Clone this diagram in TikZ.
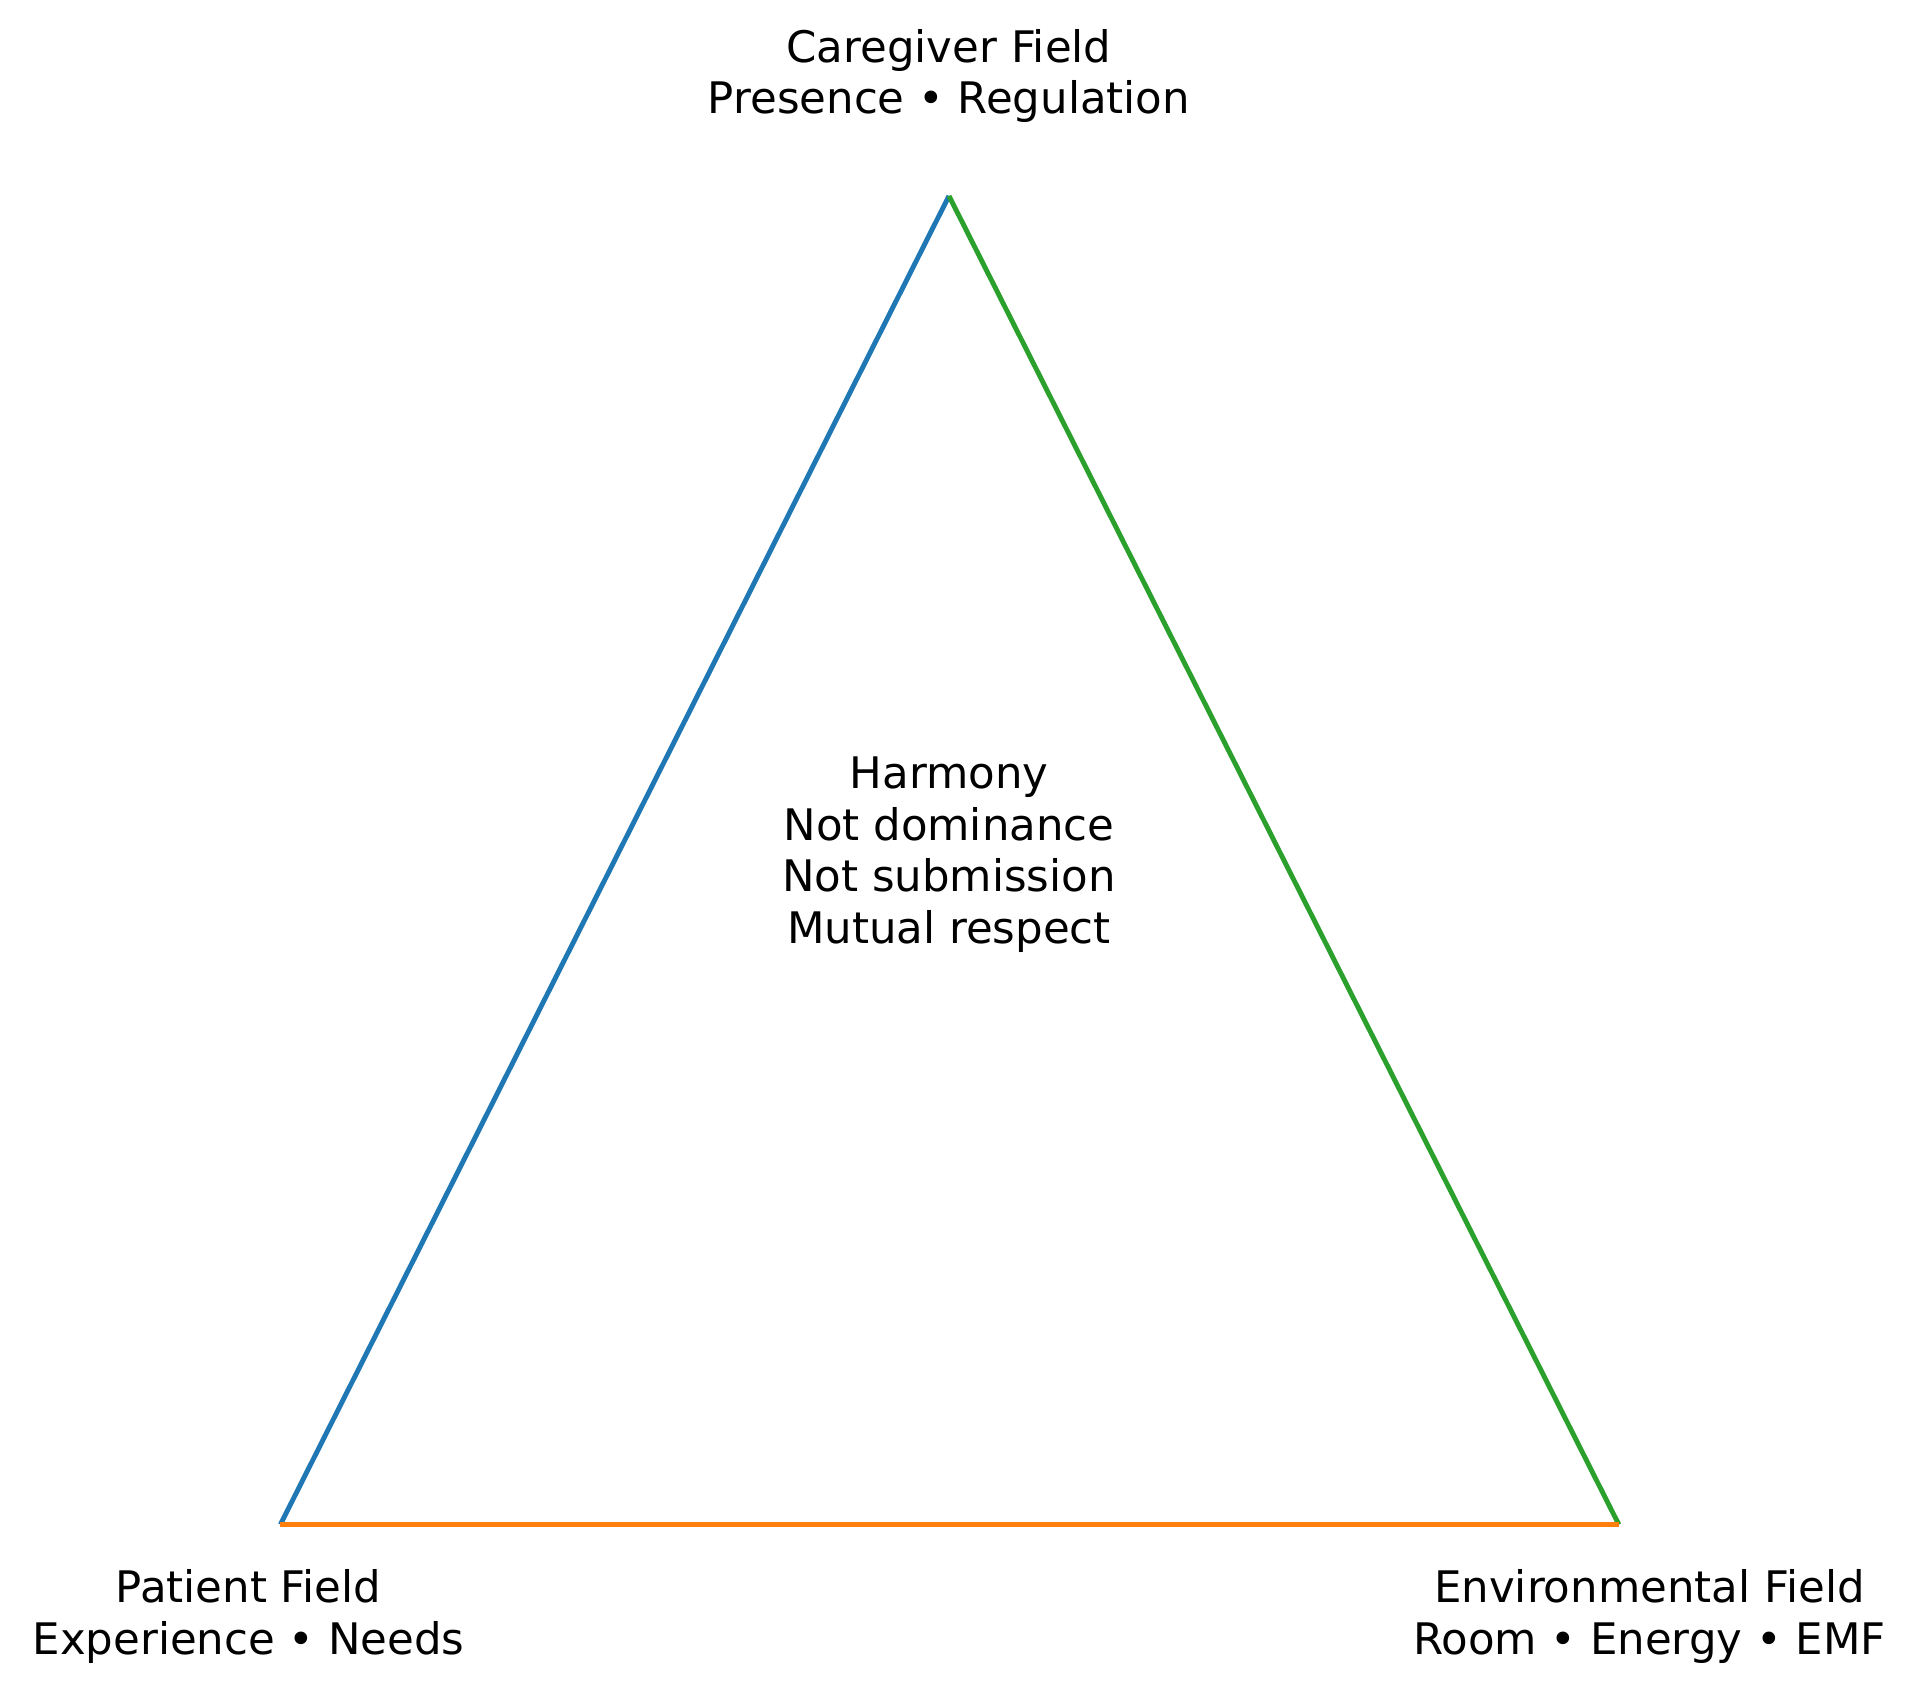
\documentclass[tikz,border=0pt]{standalone}
\usepackage{fontspec}
\setmainfont{DejaVu Sans}
\definecolor{tblue}{HTML}{1F77B4}
\definecolor{torange}{HTML}{FF7F0E}
\definecolor{tgreen}{HTML}{2CA02C}
\begin{document}
\begin{tikzpicture}[x=1pt,y=-1pt,
  lbl/.style={align=center,font=\fontsize{35.5}{42}\selectfont,inner sep=0pt},
  edge/.style={line width=4pt}]
\useasboundingbox (0,0) rectangle (1568,1386);
\coordinate (C) at (775,160);
\coordinate (P) at (229,1245);
\coordinate (E) at (1322,1245);
\draw[edge,tblue] (P) -- (C);
\draw[edge,tgreen] (C) -- (E);
\draw[edge,torange] (P) -- (E);
\node[lbl] (ct) at (775,62) {Caregiver Field\\Presence • Regulation};
\node[lbl] (pt) at (203,1320) {Patient Field\\Experience • Needs};
\node[lbl] (et) at (1347,1320) {Environmental Field\\Room • Energy • EMF};
\node[lbl] (h) at (775,698) {Harmony\\Not dominance\\Not submission\\Mutual respect};
\end{tikzpicture}
\end{document}
